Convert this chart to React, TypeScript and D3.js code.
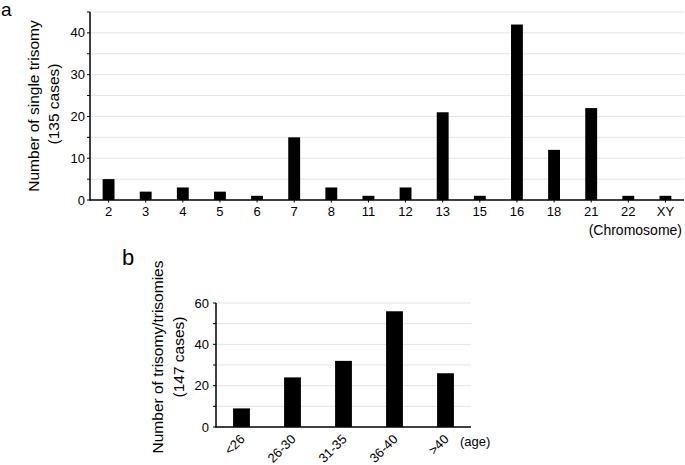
import React from "react";
import * as d3 from "d3";

const chromosomes = ["2", "3", "4", "5", "6", "7", "8", "11", "12", "13", "15", "16", "18", "21", "22", "XY"];
const trisomyCounts = [5, 2, 3, 2, 1, 15, 3, 1, 3, 21, 1, 42, 12, 22, 1, 1];
const aTickLabels = [0, 10, 20, 30, 40];
const aGridValues = [5, 10, 15, 20, 25, 30, 35, 40, 45];

const ageGroups = ["<26", "26-30", "31-35", "36-40", ">40"];
const ageCounts = [9, 24, 32, 56, 26];
const bTickLabels = [0, 20, 40, 60];
const bGridValues = [10, 20, 30, 40, 50, 60];

const FONT = "'Liberation Sans', Arial, Helvetica, sans-serif";

export default function App() {
  // Panel a
  const ax = d3.scaleBand<string>().domain(chromosomes).range([90, 684]);
  const ay = d3.scaleLinear().domain([0, 45]).range([200, 12]);
  const aBarW = ax.bandwidth() * 0.32;

  // Panel b
  const bx = d3.scaleBand<string>().domain(ageGroups).range([216, 471]);
  const by = d3.scaleLinear().domain([0, 60]).range([427, 303]);
  const bBarW = bx.bandwidth() * 0.33;

  return (
    <svg
      width={685}
      height={465}
      style={{ position: "absolute", left: 0, top: 0, background: "#fff" }}
      fontFamily={FONT}
    >
      <rect x={0} y={0} width={685} height={465} fill="#fff" />
      {/* Panel a */}
      <text x={1} y={16} fontSize={19} fill="#000">a</text>
      {aGridValues.map((v) => (
        <line key={"ag" + v} x1={90} x2={684} y1={ay(v)} y2={ay(v)} stroke="#e4e4e4" strokeWidth={1} />
      ))}
      {d3.range(0, 46, 5).map((v) => (
        <line key={"at" + v} x1={87} x2={90} y1={ay(v)} y2={ay(v)} stroke="#000" strokeWidth={1} />
      ))}
      {aTickLabels.map((v) => (
        <text key={"al" + v} x={85} y={ay(v)} dy="0.35em" textAnchor="end" fontSize={13} fill="#000">
          {v}
        </text>
      ))}
      {chromosomes.map((c, i) => (
        <rect
          key={"ab" + c}
          x={(ax(c) as number) + ax.bandwidth() / 2 - aBarW / 2}
          y={ay(trisomyCounts[i])}
          width={aBarW}
          height={ay(0) - ay(trisomyCounts[i])}
          fill="#000"
        />
      ))}
      {chromosomes.map((c) => (
        <g key={"ax" + c}>
          <line
            x1={(ax(c) as number) + ax.bandwidth() / 2}
            x2={(ax(c) as number) + ax.bandwidth() / 2}
            y1={200}
            y2={202.5}
            stroke="#000"
            strokeWidth={1}
          />
          <text
            x={(ax(c) as number) + ax.bandwidth() / 2}
            y={216}
            textAnchor="middle"
            fontSize={13}
            fill="#000"
          >
            {c}
          </text>
        </g>
      ))}
      <line x1={90} x2={90} y1={12} y2={200.5} stroke="#000" strokeWidth={1.5} />
      <line x1={89.5} x2={684} y1={200} y2={200} stroke="#000" strokeWidth={1.5} />
      <text x={682} y={235} textAnchor="end" fontSize={14} fill="#000">(Chromosome)</text>
      <text transform="translate(39,106) rotate(-90)" textAnchor="middle" fontSize={15.5} fill="#000">
        Number of single trisomy
      </text>
      <text transform="translate(59,104) rotate(-90)" textAnchor="middle" fontSize={15.5} fill="#000">
        (135 cases)
      </text>

      {/* Panel b */}
      <text x={122} y={265} fontSize={22} fill="#000">b</text>
      {bGridValues.map((v) => (
        <line key={"bg" + v} x1={216} x2={471} y1={by(v)} y2={by(v)} stroke="#e4e4e4" strokeWidth={1} />
      ))}
      {d3.range(0, 61, 10).map((v) => (
        <line key={"bt" + v} x1={213} x2={216} y1={by(v)} y2={by(v)} stroke="#000" strokeWidth={1} />
      ))}
      {bTickLabels.map((v) => (
        <text key={"bl" + v} x={209} y={by(v)} dy="0.35em" textAnchor="end" fontSize={13} fill="#000">
          {v}
        </text>
      ))}
      {ageGroups.map((g, i) => (
        <rect
          key={"bb" + g}
          x={(bx(g) as number) + bx.bandwidth() / 2 - bBarW / 2}
          y={by(ageCounts[i])}
          width={bBarW}
          height={by(0) - by(ageCounts[i])}
          fill="#000"
        />
      ))}
      {ageGroups.map((g) => {
        const cx = (bx(g) as number) + bx.bandwidth() / 2;
        return (
          <text
            key={"bxl" + g}
            transform={`translate(${cx + 4},440) rotate(-45)`}
            textAnchor="end"
            fontSize={13}
            fill="#000"
          >
            {g}
          </text>
        );
      })}
      <line x1={216} x2={216} y1={303} y2={427.5} stroke="#000" strokeWidth={1.5} />
      <line x1={215.5} x2={471} y1={427} y2={427} stroke="#000" strokeWidth={1.5} />
      <text x={460} y={446} fontSize={13} fill="#000">(age)</text>
      <text transform="translate(163,357) rotate(-90)" textAnchor="middle" fontSize={15.5} fill="#000">
        Number of trisomy/trisomies
      </text>
      <text transform="translate(184,357) rotate(-90)" textAnchor="middle" fontSize={15.5} fill="#000">
        (147 cases)
      </text>
    </svg>
  );
}
